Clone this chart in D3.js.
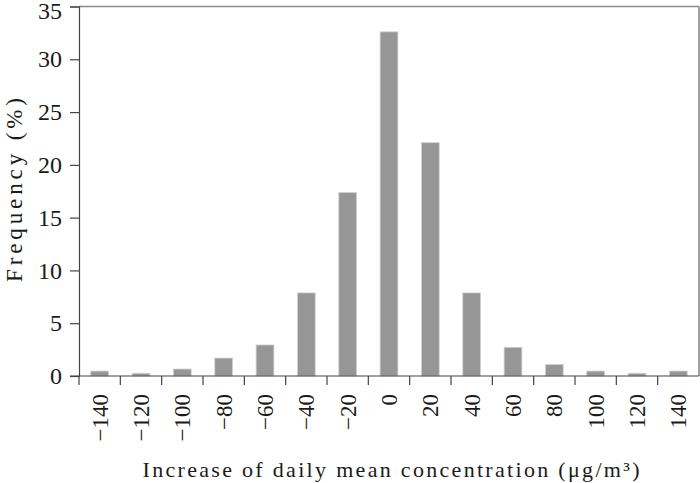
<!DOCTYPE html>
<html>
<head>
<meta charset="utf-8">
<script src="https://cdn.jsdelivr.net/npm/d3@7"></script>
<style>
  html, body { margin: 0; padding: 0; background: #fff; }
  svg { display: block; }
  text { font-family: "Liberation Serif", "Times New Roman", serif; fill: #1a1a1a; }
</style>
</head>
<body>
<svg id="chart" width="700" height="483"></svg>
<script>
const categories = ["−140","−120","−100","−80","−60","−40","−20","0","20","40","60","80","100","120","140"];
const frequency = [0.47, 0.26, 0.66, 1.7, 2.94, 7.87, 17.38, 32.6, 22.1, 7.87, 2.72, 1.08, 0.47, 0.26, 0.47];
const yTicks = [0, 5, 10, 15, 20, 25, 30, 35];
const xTitle = "Increase of daily mean concentration (μg/m³)";
const yTitle = "Frequency (%)";

const svg = d3.select("#chart");
const mLeft = 79, mRight = 699, mTop = 6.5, mBottom = 376;

const x = d3.scaleBand().domain(categories).range([mLeft, mRight]).paddingInner(0.57).paddingOuter(0.285);
const y = d3.scaleLinear().domain([0, 35]).range([mBottom, mTop]);

// frame top & right
svg.append("line").attr("x1", mLeft).attr("x2", mRight).attr("y1", mTop).attr("y2", mTop)
  .attr("stroke", "#8a8a8a").attr("stroke-width", 1.6);
svg.append("line").attr("x1", mRight).attr("x2", mRight).attr("y1", mTop).attr("y2", mBottom)
  .attr("stroke", "#8a8a8a").attr("stroke-width", 1.6);

// bars
svg.append("g").selectAll("rect").data(categories).join("rect")
  .attr("x", (c) => x(c))
  .attr("width", x.bandwidth())
  .attr("y", (c, i) => y(frequency[i]))
  .attr("height", (c, i) => mBottom - y(frequency[i]))
  .attr("fill", "#969696")
  .attr("stroke", "#d2d2d2")
  .attr("stroke-width", 0.8);

// y axis
const yAxis = svg.append("g").attr("transform", `translate(${mLeft},0)`)
  .call(d3.axisLeft(y).tickValues(yTicks).tickSize(9).tickPadding(8).tickFormat(d3.format("d")));
yAxis.select(".domain").attr("stroke", "#444").attr("stroke-width", 1.2);
yAxis.selectAll(".tick line").attr("stroke", "#444").attr("stroke-width", 1.2);
yAxis.selectAll(".tick text").attr("font-size", 24).attr("font-family", "Liberation Serif").attr("fill", "#1a1a1a")
  .attr("dy", (d) => d === 35 ? "0.5em" : "0.32em");

// x axis
const xAxis = svg.append("g").attr("transform", `translate(0,${mBottom})`)
  .call(d3.axisBottom(x).tickSize(0).tickPadding(0));
xAxis.select(".domain").attr("d", `M${mLeft - 9},0H${mRight}`).attr("stroke", "#444").attr("stroke-width", 1.2);
xAxis.selectAll(".tick text")
  .attr("transform", "translate(0,18) rotate(-90)")
  .attr("text-anchor", "end")
  .attr("dy", "0.35em")
  .attr("x", 0).attr("y", 0)
  .attr("font-size", 23).attr("font-family", "Liberation Serif").attr("fill", "#1a1a1a");
// boundary ticks
const step = x.step();
svg.append("g").selectAll("line").data(categories).join("line")
  .attr("x1", (c) => x(c) + x.bandwidth() / 2 - step / 2)
  .attr("x2", (c) => x(c) + x.bandwidth() / 2 - step / 2)
  .attr("y1", mBottom).attr("y2", mBottom + 9)
  .attr("stroke", "#444").attr("stroke-width", 1.2);

// titles
svg.append("text").attr("x", 391).attr("y", 477).attr("text-anchor", "middle")
  .attr("font-size", 22).attr("textLength", 497).attr("lengthAdjust", "spacing")
  .text(xTitle);
svg.append("text").attr("transform", "translate(22,190) rotate(-90)").attr("text-anchor", "middle")
  .attr("font-size", 23).attr("textLength", 184).attr("lengthAdjust", "spacing")
  .text(yTitle);
</script>
</body>
</html>
